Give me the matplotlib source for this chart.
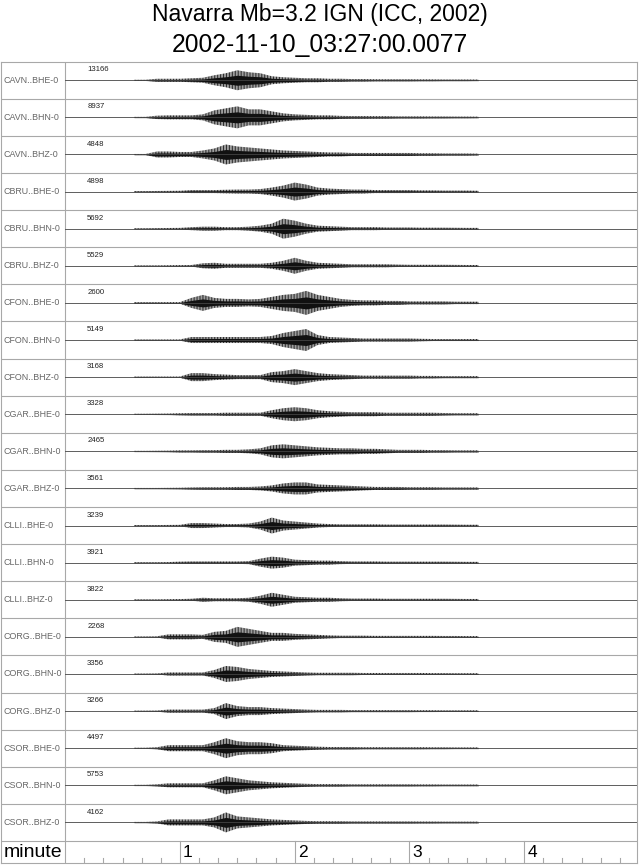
import matplotlib
matplotlib.use("Agg")
import matplotlib.pyplot as plt
import numpy as np

plt.rcParams['font.family'] = ['Liberation Sans', 'DejaVu Sans']
plt.rcParams['hatch.linewidth'] = 0.7

# stations / channels, top to bottom
labels = ['CAVN..BHE-0', 'CAVN..BHN-0', 'CAVN..BHZ-0',
          'CBRU..BHE-0', 'CBRU..BHN-0', 'CBRU..BHZ-0',
          'CFON..BHE-0', 'CFON..BHN-0', 'CFON..BHZ-0',
          'CGAR..BHE-0', 'CGAR..BHN-0', 'CGAR..BHZ-0',
          'CLLI..BHE-0', 'CLLI..BHN-0', 'CLLI..BHZ-0',
          'CORG..BHE-0', 'CORG..BHN-0', 'CORG..BHZ-0',
          'CSOR..BHE-0', 'CSOR..BHN-0', 'CSOR..BHZ-0']

# peak amplitude (counts) printed above each trace
max_counts = [13166, 8937, 4848, 4898, 5692, 5529, 2600, 5149, 3168, 3328, 2465,
              3561, 3239, 3921, 3822, 2268, 3356, 3266, 4497, 5753, 4162]

# envelope time grid (minutes) and half-amplitude (pixels)
env_t = [0.6, 0.7, 0.8, 0.9, 1.0, 1.1, 1.2, 1.3, 1.4, 1.5, 1.6, 1.7, 1.8, 1.9, 2.0, 2.1,
         2.2, 2.3, 2.4, 2.5, 2.6, 2.7, 2.8, 2.9, 3.0, 3.1, 3.2, 3.3, 3.4, 3.5, 3.6]

env_cavn_bhe = [0.5, 0.5, 1.5, 1.5, 1.5, 2, 2.5, 5, 7, 10, 8, 7, 4, 3, 2.5, 2, 2, 1.5, 1.5, 1.2, 1.2, 1, 1, 1, 1, 0.9, 0.9, 0.8, 0.8, 0.8, 0.7]
env_cavn_bhn = [0.5, 0.5, 1.7, 2, 2, 2, 3, 7, 9, 11, 8, 8, 6, 4, 3, 2.5, 2, 2, 1.5, 1.3, 1.3, 1.2, 1.2, 1, 1, 1, 0.9, 0.9, 0.8, 0.8, 0.7]
env_cavn_bhz = [0.5, 0.5, 3, 3, 2.5, 2.5, 4, 6, 10, 8, 7, 6, 5, 4, 3.5, 3, 2.5, 2, 2, 1.5, 1.5, 1.5, 1.5, 1.5, 1.5, 1.2, 1.2, 1, 1, 1, 0.8]
env_cbru_bhe = [0.5, 0.5, 0.6, 0.7, 0.8, 1.5, 1.5, 1.5, 1.8, 2, 2, 2.5, 4, 6, 9, 7, 4, 3, 2.5, 2, 2, 1.5, 1.5, 1.5, 1.5, 1.2, 1.2, 1, 1, 1, 0.8]
env_cbru_bhn = [0.5, 0.5, 0.6, 0.7, 0.8, 1.5, 2, 2, 1.5, 1.5, 2, 3, 5, 10, 8, 5, 3, 2.5, 2, 1.5, 1.5, 1.5, 1.2, 1.2, 1.2, 1, 1, 1, 0.9, 0.8, 0.8]
env_cbru_bhz = [0.5, 0.5, 0.5, 0.6, 0.7, 0.8, 2.5, 3, 2, 2, 2, 2, 3, 5, 8, 5, 3, 2.5, 2, 1.5, 1.5, 1.5, 1.5, 1.2, 1, 1, 1, 1, 0.9, 0.8, 0.8]
env_cfon_bhe = [0.8, 0.8, 0.8, 0.8, 0.8, 5, 8, 5, 4, 4, 3.5, 4, 6, 8, 9, 12, 8, 6, 4, 3, 2.5, 2.5, 2, 2, 1.5, 1.5, 1.5, 1.5, 1.2, 1.2, 1.2]
env_cfon_bhn = [0.6, 0.6, 0.6, 0.6, 0.6, 3, 3, 3, 3, 3, 3, 3, 4, 7, 9, 11, 5, 3, 2.5, 2, 1.5, 1.5, 1.5, 1.5, 1.5, 1.2, 1, 1, 1, 1, 1]
env_cfon_bhz = [0.6, 0.6, 0.6, 0.6, 0.6, 4, 4, 3, 2.5, 2, 2, 2, 5, 6, 8, 6, 4, 3, 2.5, 2, 1.5, 1.5, 1.5, 1.5, 1.5, 1.2, 1.2, 1, 1, 1, 1]
env_cgar_bhe = [0.5, 0.5, 0.6, 0.7, 1, 1.2, 1.2, 1.2, 1.5, 1.5, 1.5, 1.5, 4, 6, 7, 6, 4, 3, 2.5, 2, 2, 2, 1.5, 1.5, 1.5, 1.5, 1.5, 1.2, 1, 1, 1]
env_cgar_bhn = [0.5, 0.5, 0.6, 0.7, 1, 1, 1.2, 1.2, 1.5, 1.5, 2, 3, 6, 7, 6, 5, 4, 3.5, 3, 3, 2.5, 2.5, 2, 1.5, 1.5, 1.5, 1.2, 1.2, 1, 1, 1]
env_cgar_bhz = [0.5, 0.5, 0.5, 0.6, 0.7, 1, 1.2, 1.2, 1.2, 1.5, 1.5, 2, 3, 5, 6, 6, 4, 3.5, 3, 2.5, 2, 1.5, 1.5, 1.5, 1.2, 1.2, 1.2, 1, 1, 1, 1]
env_clli_bhe = [0.5, 0.5, 0.5, 0.6, 0.7, 2.5, 2.5, 2, 1.5, 1.5, 2, 4, 8, 5, 4, 3, 2, 1.5, 1.2, 1.2, 1.2, 1.2, 1, 1, 1, 1, 1, 1, 0.9, 0.8, 0.8]
env_clli_bhn = [0.5, 0.5, 0.5, 0.6, 1, 1.2, 1.2, 1.2, 1.2, 1.2, 1.5, 4, 6, 5, 3, 2.5, 2, 2, 1.5, 1.2, 1.2, 1.2, 1, 1, 1, 1, 1, 1, 0.9, 0.8, 0.8]
env_clli_bhz = [0.5, 0.5, 0.5, 0.6, 0.7, 1, 2, 1.5, 1.5, 1.5, 2, 4, 7, 5, 3, 2.5, 2, 2, 1.5, 1.2, 1.2, 1.2, 1, 1, 1, 1, 1, 1, 0.9, 0.8, 0.8]
env_corg_bhe = [0.5, 0.5, 0.6, 2.5, 2.5, 2.5, 2, 5, 6, 10, 8, 6, 4, 4, 3, 2.5, 2, 1.5, 1.2, 1.2, 1.2, 1, 1, 1, 1, 1, 1, 0.9, 0.9, 0.8, 0.8]
env_corg_bhn = [0.5, 0.5, 0.6, 1.5, 1.5, 1.5, 1.5, 4, 8, 7, 5, 4, 3, 2.5, 2, 1.5, 1.2, 1.2, 1.2, 1.2, 1, 1, 1, 1, 1, 1, 0.9, 0.9, 0.8, 0.8, 0.8]
env_corg_bhz = [0.5, 0.5, 0.6, 1.5, 1.5, 1.5, 1.5, 3, 8, 5, 4, 4, 3, 2.5, 2, 1.5, 1.2, 1.2, 1.2, 1, 1, 1, 1, 1, 1, 0.9, 0.9, 0.8, 0.8, 0.8, 0.8]
env_csor_bhe = [0.5, 0.5, 1, 3, 3, 3, 3, 6, 10, 7, 6, 6, 5, 3, 2.5, 2, 1.5, 1.2, 1.2, 1.2, 1, 1, 1, 1, 1, 1, 0.9, 0.9, 0.8, 0.8, 0.8]
env_csor_bhn = [0.5, 0.5, 1, 2, 2, 2, 2, 5, 9, 7, 5, 4, 3, 2.5, 2, 1.5, 1.2, 1.2, 1.2, 1, 1, 1, 1, 1, 1, 0.9, 0.9, 0.8, 0.8, 0.8, 0.8]
env_csor_bhz = [0.5, 0.5, 1, 3, 3, 3, 3, 5, 10, 6, 5, 4, 3, 2.5, 2, 1.5, 1.2, 1.2, 1.2, 1, 1, 1, 1, 1, 1, 0.9, 0.9, 0.8, 0.8, 0.8, 0.8]

envelopes = [env_cavn_bhe, env_cavn_bhn, env_cavn_bhz,
             env_cbru_bhe, env_cbru_bhn, env_cbru_bhz,
             env_cfon_bhe, env_cfon_bhn, env_cfon_bhz,
             env_cgar_bhe, env_cgar_bhn, env_cgar_bhz,
             env_clli_bhe, env_clli_bhn, env_clli_bhz,
             env_corg_bhe, env_corg_bhn, env_corg_bhz,
             env_csor_bhe, env_csor_bhn, env_csor_bhz]

major_ticks = [1, 2, 3, 4]

# layout in pixels
W, H = 640, 866
row_px = 37.05
px_per_min = 114.8
t_max = 4.98
label_w = 65.2 - 1.0
axis_row = 22 / row_px
nrows = len(labels)
grid_col = '#a8a8a8'

fig = plt.figure(figsize=(W / 100, H / 100), dpi=100)
ax_top = 61.7
ax_bot = 863.0
ax = fig.add_axes([1.0 / W, 1 - ax_bot / H, 635.7 / W, (ax_bot - ax_top) / H])
x0 = -label_w / px_per_min
ax.set_xlim(x0, t_max)
ax.set_ylim(nrows + axis_row, 0)
ax.set_xticks([])
ax.set_yticks([])
for s in ax.spines.values():
    s.set_color(grid_col)
    s.set_linewidth(0.8)

# grid: row separators and label column border
for i in range(1, nrows + 1):
    ax.axhline(i, color=grid_col, lw=0.8)
ax.axvline(0, color=grid_col, lw=0.8)

for i, (lab, cnt, env) in enumerate(zip(labels, max_counts, envelopes)):
    yc = i + 0.5
    amp = np.array(env) / row_px
    ax.plot([0, t_max], [yc, yc], color='#444444', lw=0.6)
    # spiky outer part as dense vertical strokes, dense core in black
    ax.fill_between(env_t, yc - amp, yc + amp, facecolor='none',
                    edgecolor='#2a2a2a', hatch='|' * 11, lw=0)
    ax.fill_between(env_t, yc - 0.5 * amp, yc + 0.5 * amp,
                    color='#111111', lw=0)
    ax.text(x0 + 3 / px_per_min, yc, lab, fontsize=6.4, color='#666666',
            va='center', ha='left')
    ax.text(22 / px_per_min, i + 0.22, str(cnt), fontsize=5.6, color='#222222',
            va='center', ha='left')

# time axis row
yb = nrows + axis_row
for t in major_ticks:
    ax.plot([t, t], [nrows, yb], color=grid_col, lw=0.8)
    ax.text(t + 3 / px_per_min, nrows + axis_row * 0.52, str(t), fontsize=12.5,
            va='center', ha='left')
minor = np.arange(1, 30) / 6.0
for t in minor:
    if t < t_max and abs(t - round(t)) > 1e-6:
        ax.plot([t, t], [yb - 4.5 / row_px, yb], color=grid_col, lw=0.8)
ax.text(x0 + 3 / px_per_min, nrows + axis_row * 0.52, 'minute', fontsize=14,
        va='center', ha='left')

fig.text(0.5, 1 - 14 / H, 'Navarra Mb=3.2 IGN (ICC, 2002)', fontsize=16.5,
         ha='center', va='center')
fig.text(0.5, 1 - 45 / H, '2002-11-10_03:27:00.0077', fontsize=17.7,
         ha='center', va='center')

fig.savefig('out.png', dpi=100)
